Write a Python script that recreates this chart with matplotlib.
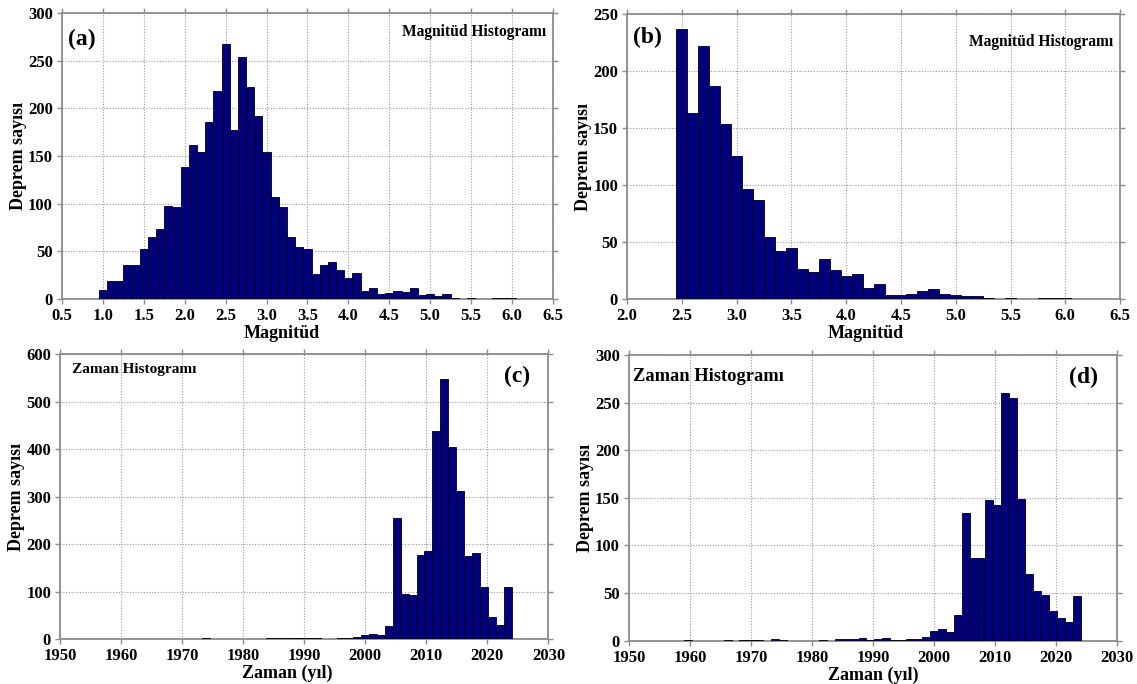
import numpy as np
import matplotlib
matplotlib.use('Agg')
import matplotlib.pyplot as plt

plt.rcParams['font.family'] = ['Liberation Serif', 'DejaVu Serif']
plt.rcParams['font.weight'] = 'bold'

# magnitude histograms, bin width 0.1
mag_a_start = 0.95
mag_a_counts = [9, 19, 19, 36, 36, 52, 65, 73, 98, 97,
                138, 162, 154, 186, 218, 267, 177, 254, 222, 192,
                154, 107, 96, 65, 54, 52, 26, 36, 39, 30,
                22, 27, 8, 11, 5, 6, 8, 7, 12, 4,
                5, 3, 5, 1, 0, 1, 0, 0, 1, 1, 1]
mag_b_start = 2.45
mag_b_counts = [237, 163, 222, 187, 154, 126, 97, 87, 55, 42,
                45, 27, 24, 35, 26, 20, 22, 10, 13, 4,
                4, 5, 7, 9, 5, 4, 3, 3, 1, 0,
                1, 0, 0, 1, 1, 1]
mag_width = 0.1

# time histograms, 50 bins between 1959 and 2024
year_start = 1959.0
year_width = 1.3
year_c_counts = [1, 0, 0, 0, 0, 1, 0, 1, 1, 1,
                 0, 2, 1, 0, 0, 0, 0, 1, 0, 2,
                 2, 2, 3, 2, 3, 3, 1, 1, 2, 3,
                 4, 10, 11, 9, 28, 256, 95, 93, 177, 186,
                 439, 547, 404, 312, 176, 181, 110, 48, 31, 110]
year_d_counts = [1, 0, 0, 0, 0, 1, 0, 1, 1, 1,
                 0, 2, 1, 0, 0, 0, 0, 1, 0, 2,
                 2, 2, 3, 1, 2, 3, 1, 1, 2, 2,
                 4, 10, 12, 9, 27, 134, 87, 87, 148, 143,
                 260, 255, 149, 70, 52, 48, 31, 24, 20, 47]

BAR = '#00007f'
FRAME = '#8c8c8c'


def hist_panel(ax, start, width, counts):
    counts = np.asarray(counts)
    left = start + width * np.arange(len(counts))
    keep = counts > 0
    ax.bar(left[keep], counts[keep], width=width, align='edge',
           color=BAR, edgecolor='black', linewidth=0.6, zorder=3)
    ax.grid(True, linestyle=(0, (1, 1.5)), color='#9a9a9a', linewidth=0.8, zorder=0)
    for s in ax.spines.values():
        s.set_color(FRAME)
        s.set_linewidth(1.3)
        s.set_zorder(2.5)
    ax.tick_params(direction='out', length=3.5, width=1, color=FRAME,
                   top=True, right=True, labelsize=12, pad=3)


fig = plt.figure(figsize=(11.37, 6.84), dpi=100)

ax_a = fig.add_axes([0.0545, 0.5629, 0.4318, 0.4181])
ax_b = fig.add_axes([0.5515, 0.5624, 0.4336, 0.4171])
ax_c = fig.add_axes([0.0528, 0.0653, 0.4295, 0.4172])
ax_d = fig.add_axes([0.5532, 0.0633, 0.4295, 0.4177])

# (a)
hist_panel(ax_a, mag_a_start, mag_width, mag_a_counts)
ax_a.set_xlim(0.5, 6.5)
ax_a.set_ylim(0, 300)
ax_a.set_xticks(np.arange(0.5, 6.51, 0.5))
ax_a.set_xticklabels(['%.1f' % v for v in np.arange(0.5, 6.51, 0.5)], fontweight='bold')
ax_a.set_yticks(np.arange(0, 301, 50))
ax_a.set_yticklabels([str(v) for v in range(0, 301, 50)], fontweight='bold')
ax_a.text(0.012, 0.945, '(a)', transform=ax_a.transAxes, fontsize=17,
          fontweight='bold', ha='left', va='top')
ax_a.text(0.986, 0.934, 'Magnitüd Histogramı', transform=ax_a.transAxes,
          fontsize=11.2, fontweight='bold', ha='right', va='center')

# (b)
hist_panel(ax_b, mag_b_start, mag_width, mag_b_counts)
ax_b.set_xlim(2.0, 6.5)
ax_b.set_ylim(0, 250)
ax_b.set_xticks(np.arange(2.0, 6.51, 0.5))
ax_b.set_xticklabels(['%.1f' % v for v in np.arange(2.0, 6.51, 0.5)], fontweight='bold')
ax_b.set_yticks(np.arange(0, 251, 50))
ax_b.set_yticklabels([str(v) for v in range(0, 251, 50)], fontweight='bold')
ax_b.text(0.012, 0.955, '(b)', transform=ax_b.transAxes, fontsize=17,
          fontweight='bold', ha='left', va='top')
ax_b.text(0.986, 0.903, 'Magnitüd Histogramı', transform=ax_b.transAxes,
          fontsize=11.2, fontweight='bold', ha='right', va='center')

# (c)
hist_panel(ax_c, year_start, year_width, year_c_counts)
ax_c.set_xlim(1950, 2030)
ax_c.set_ylim(0, 600)
ax_c.set_xticks(range(1950, 2031, 10))
ax_c.set_xticklabels([str(v) for v in range(1950, 2031, 10)], fontweight='bold')
ax_c.set_yticks(range(0, 601, 100))
ax_c.set_yticklabels([str(v) for v in range(0, 601, 100)], fontweight='bold')
ax_c.text(0.025, 0.945, 'Zaman Histogramı', transform=ax_c.transAxes,
          fontsize=11, fontweight='bold', ha='left', va='center')
ax_c.text(0.963, 0.92, '(c)', transform=ax_c.transAxes, fontsize=17,
          fontweight='bold', ha='right', va='center')

# (d)
hist_panel(ax_d, year_start, year_width, year_d_counts)
ax_d.set_xlim(1950, 2030)
ax_d.set_ylim(0, 300)
ax_d.set_xticks(range(1950, 2031, 10))
ax_d.set_xticklabels([str(v) for v in range(1950, 2031, 10)], fontweight='bold')
ax_d.set_yticks(range(0, 301, 50))
ax_d.set_yticklabels([str(v) for v in range(0, 301, 50)], fontweight='bold')
ax_d.text(0.008, 0.926, 'Zaman Histogramı', transform=ax_d.transAxes,
          fontsize=13.3, fontweight='bold', ha='left', va='center')
ax_d.text(0.961, 0.922, '(d)', transform=ax_d.transAxes, fontsize=17,
          fontweight='bold', ha='right', va='center')

# axis titles
for ax, xl, xpos in [(ax_a, 'Magnitüd', 0.448), (ax_b, 'Magnitüd', 0.485),
                     (ax_c, 'Zaman (yıl)', 0.465), (ax_d, 'Zaman (yıl)', 0.5)]:
    ax.set_xlabel(xl, fontsize=13, fontweight='bold', labelpad=0)
    ax.xaxis.set_label_coords(xpos, -0.09)
    ax.set_ylabel('Deprem sayısı', fontsize=13, fontweight='bold', labelpad=1)

fig.savefig('out.png', dpi=100)
